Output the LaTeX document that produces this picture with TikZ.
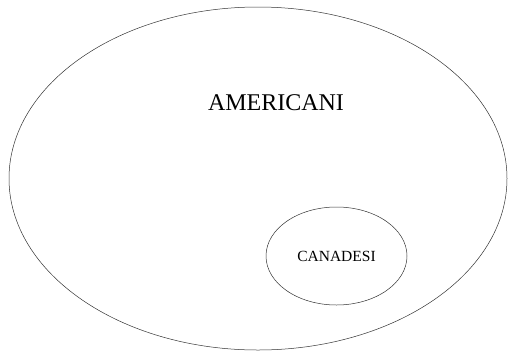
\documentclass[tikz,border=0pt]{standalone}
\usepackage{fontspec}
\setmainfont{Liberation Serif}
\usetikzlibrary{calc}

\begin{document}
\begin{tikzpicture}[x = 1pt, y = -1pt]
            \useasboundingbox(0,0)rectangle(508,351);
            % 全体集合
            \coordinate(am)at(258,178.5);
            \path[draw, line width = 0.5pt, black!80](am)ellipse[x radius = 249, y radius = 171.5];
            \node(amt)at(276,103){\fontsize{24}{28}\selectfont AMERICANI};
            % 部分集合
            \coordinate(ca)at(336.5,256);
            \path[draw, line width = 0.5pt, black!80](ca)ellipse[x radius = 70.5, y radius = 49];
            \node(cat)at(336.5,256){\fontsize{15.5}{18}\selectfont CANADESI};
        \end{tikzpicture}
\end{document}
